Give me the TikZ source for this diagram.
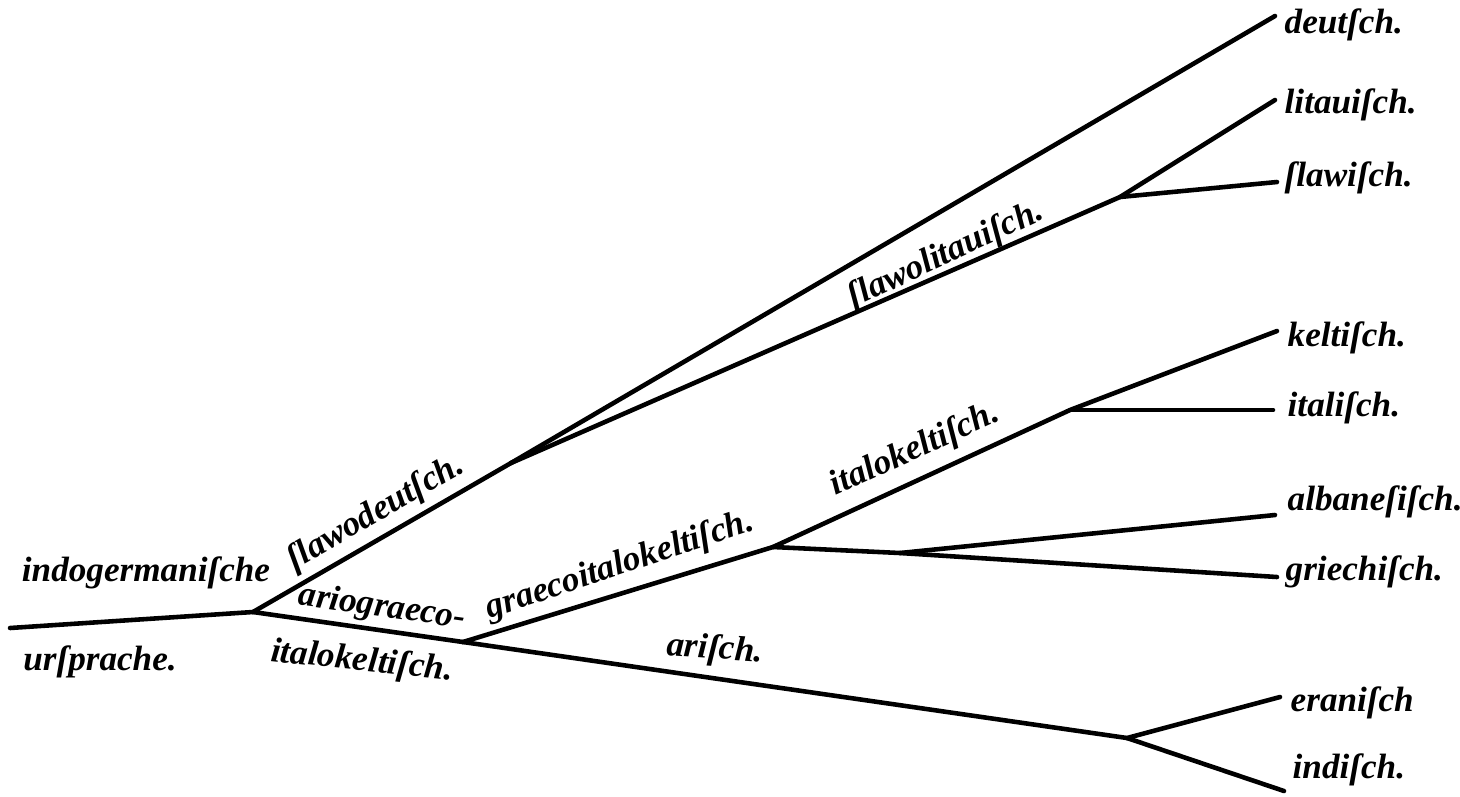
\documentclass[tikz,border=0pt]{standalone}
\usepackage{fontspec}
\setmainfont{Liberation Serif}
\begin{document}
\begin{tikzpicture}[x=0.01cm,y=-0.01cm,
  branch/.style={line width=1.3pt,line cap=round,line join=round},
  lab/.style={font=\fontsize{10}{12}\selectfont\bfseries\itshape,inner sep=0pt},
  leaf/.style={lab,anchor=west}]
\useasboundingbox (0,0) rectangle (1460,796);
% junctions
\coordinate (root) at (10,628);
\coordinate (A) at (253,612);
\coordinate (B) at (511,463);
\coordinate (S) at (1120,197);
\coordinate (C) at (463,642);
\coordinate (D) at (773,547);
\coordinate (E) at (1070,410);
\coordinate (F) at (900,553);
\coordinate (G) at (1127,738);
% line ends
\coordinate (eDe) at (1275,16);
\coordinate (eLi) at (1275,100);
\coordinate (eSl) at (1277,182);
\coordinate (eKe) at (1277,331);
\coordinate (eIt) at (1273,410);
\coordinate (eAl) at (1275,515);
\coordinate (eGr) at (1277,577);
\coordinate (eEr) at (1280,697);
\coordinate (eIn) at (1284,791);
% branches
\draw[branch] (root) -- (A);
\draw[branch] (A) -- (B);
\draw[branch] (B) -- (eDe);
\draw[branch] (B) -- (S) -- (eLi);
\draw[branch] (S) -- (eSl);
\draw[branch] (A) -- (C);
\draw[branch] (C) -- (D);
\draw[branch] (D) -- (E) -- (eKe);
\draw[branch] (E) -- (eIt);
\draw[branch] (D) -- (F) -- (eAl);
\draw[branch] (F) -- (eGr);
\draw[branch] (C) -- (G) -- (eEr);
\draw[branch] (G) -- (eIn);
% leaf labels
\node[leaf] (deutsch) at (1284,25) {deutſch.};
\node[leaf] (litauisch) at (1284,105) {litauiſch.};
\node[leaf] (slawisch) at (1284,178) {ſlawiſch.};
\node[leaf] (keltisch) at (1287,338) {keltiſch.};
\node[leaf] (italisch) at (1287,408) {italiſch.};
\node[leaf] (albanesisch) at (1287,502) {albaneſiſch.};
\node[leaf] (griechisch) at (1285,572) {griechiſch.};
\node[leaf] (eranisch) at (1290,703) {eraniſch};
\node[leaf] (indisch) at (1292,770) {indiſch.};
% branch labels
\node[lab] (indog) at (146,573) {indogermaniſche};
\node[lab] (urspr) at (100,662) {urſprache.};
\node[lab,rotate=30] (slawodeutsch) at (376,513) {ſlawodeutſch.};
\node[lab,rotate=-8] (ariograeco) at (382,608) {ariograeco-};
\node[lab,rotate=-6] (italokelt1) at (362,662) {italokeltiſch.};
\node[lab,rotate=18.5] (graecoital) at (620,566) {graecoitalokeltiſch.};
\node[lab,rotate=24.5] (italokelt2) at (915,450) {italokeltiſch.};
\node[lab,rotate=-4] (arisch) at (715,650) {ariſch.};
\node[lab,rotate=25] (slawolit) at (946,255) {ſlawolitauiſch.};
\end{tikzpicture}
\end{document}
